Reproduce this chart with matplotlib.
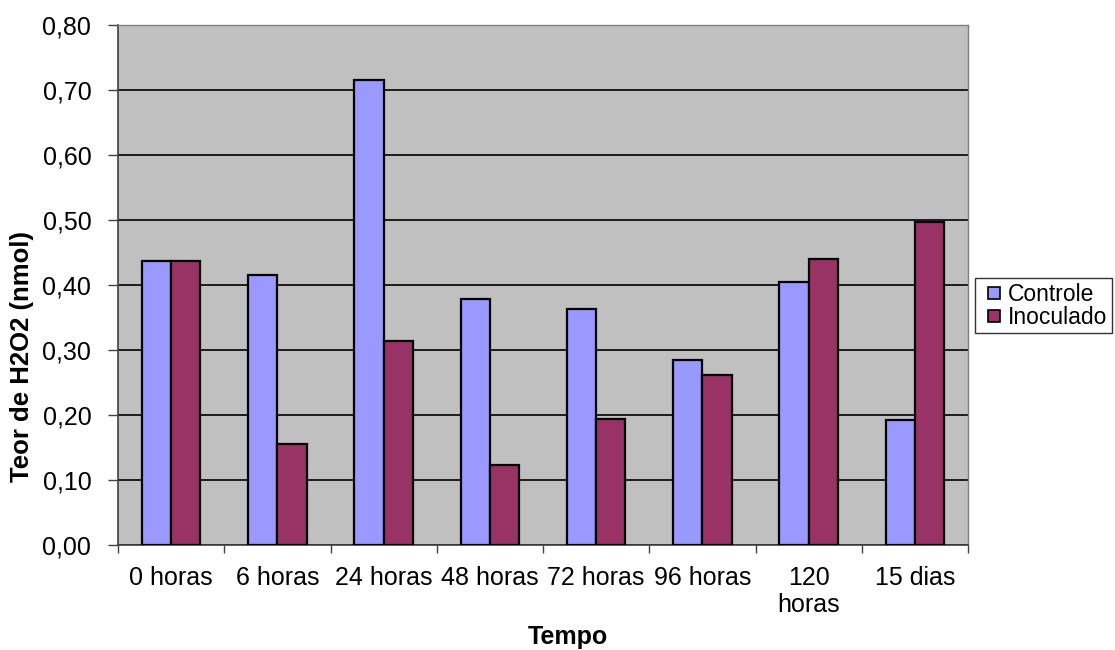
import matplotlib
matplotlib.use("Agg")
import matplotlib.pyplot as plt
import numpy as np
from matplotlib.ticker import FixedLocator, FuncFormatter
from matplotlib.lines import Line2D

categories = ["0 horas", "6 horas", "24 horas", "48 horas", "72 horas", "96 horas", "120\nhoras", "15 dias"]
controle = [0.437, 0.416, 0.716, 0.379, 0.363, 0.284, 0.404, 0.193]
inoculado = [0.437, 0.155, 0.314, 0.123, 0.194, 0.261, 0.440, 0.497]
yticks = [0.0, 0.1, 0.2, 0.3, 0.4, 0.5, 0.6, 0.7, 0.8]
series_names = ["Controle", "Inoculado"]
colors = ['#9999FF', '#993366']

plt.rcParams['font.family'] = ['Liberation Sans', 'DejaVu Sans']

fig = plt.figure(figsize=(11.15, 6.5), dpi=100)
ax = fig.add_axes([118/1115, 1-545/650, 850/1115, 520/650])
ax.set_facecolor('#C0C0C0')

x = np.arange(len(categories))
w = 0.275
ax.bar(x - w/2, controle, w, color=colors[0], edgecolor='black', linewidth=1.6, zorder=3)
ax.bar(x + w/2, inoculado, w, color=colors[1], edgecolor='black', linewidth=1.6, zorder=3)

ax.set_xlim(-0.5, len(categories) - 0.5)
ax.set_ylim(0, 0.8)
ax.set_yticks(yticks)
ax.yaxis.set_major_formatter(FuncFormatter(lambda v, p: f"{v:.2f}".replace('.', ',')))
ax.yaxis.grid(True, color='black', linewidth=1.2, zorder=1)
ax.set_axisbelow(True)

ax.set_xticks(x)
ax.set_xticklabels(categories, fontsize=18, linespacing=1.15)
ax.xaxis.set_minor_locator(FixedLocator(np.arange(-0.5, len(categories), 1.0)))
ax.tick_params(axis='x', which='major', length=0, pad=15)
ax.tick_params(axis='x', which='minor', length=6, width=1, color='#404040', direction='out')
ax.tick_params(axis='y', which='major', length=7.2, width=1, color='#404040', direction='out', labelsize=18, pad=12)

for s in ['left', 'bottom']:
    ax.spines[s].set_color('#404040')
    ax.spines[s].set_linewidth(1.2)
for s in ['top', 'right']:
    ax.spines[s].set_color('#808080')
    ax.spines[s].set_linewidth(1.0)

ax.set_xlabel('Tempo', fontsize=18, fontweight='bold')
ax.xaxis.set_label_coords((568-118)/850, (545-637)/520)
ax.xaxis.label.set_va('center')
ax.set_ylabel('Teor de H2O2 (nmol)', fontsize=18.5, fontweight='bold')
ax.yaxis.set_label_coords((22-118)/850, (545-357)/520)
ax.yaxis.label.set_va('center')

handles = [Line2D([], [], linestyle='none', marker='s', markersize=8.5, markerfacecolor=c,
                  markeredgecolor='black', markeredgewidth=1.2) for c in colors]
leg = fig.legend(handles, series_names, loc='upper left', bbox_to_anchor=(975/1115, 1-278/650), fontsize=16.5,
                 frameon=True, fancybox=False, shadow=False, handlelength=1.25,
                 handletextpad=0.0, borderpad=0.2, labelspacing=0.0, borderaxespad=0)
leg.get_frame().set_edgecolor('black')
leg.get_frame().set_linewidth(1.0)

fig.savefig('out.png', dpi=100)
